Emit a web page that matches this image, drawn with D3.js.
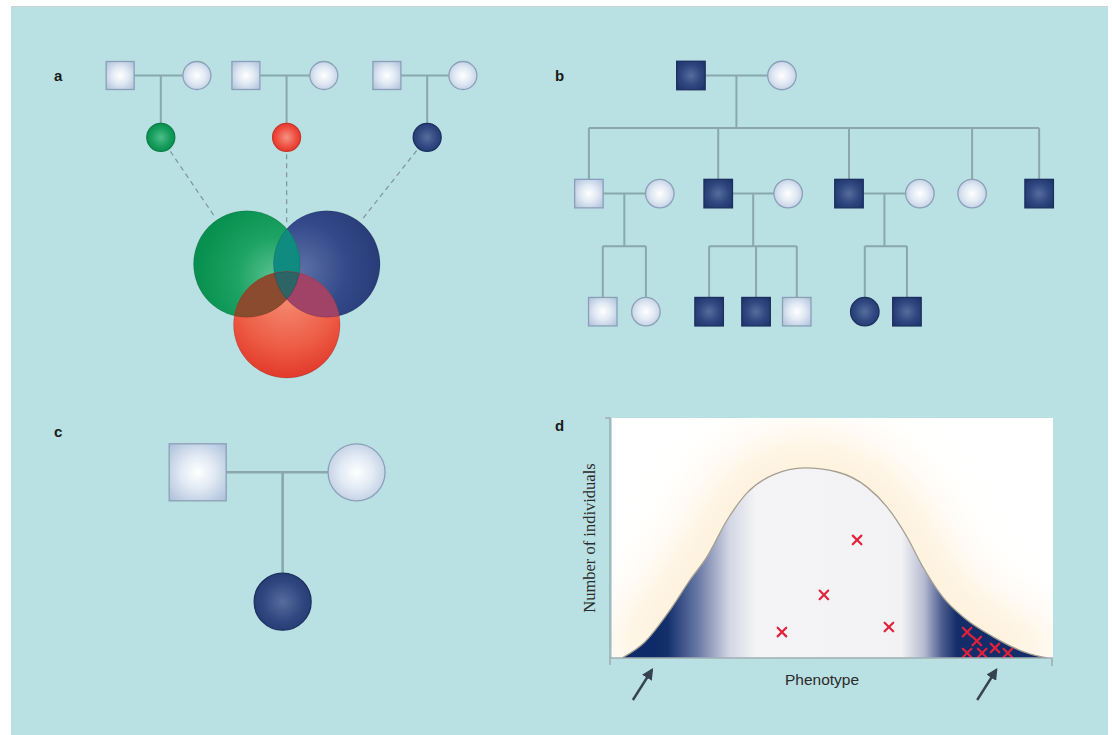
<!DOCTYPE html>
<html>
<head>
<meta charset="utf-8">
<script src="https://cdn.jsdelivr.net/npm/d3@7"></script>
<style>
  html, body { margin: 0; padding: 0; background: #fff; }
  svg { display: block; }
</style>
</head>
<body>
<script>
// ---------------- data ----------------

// Panel a: three couples, each with one daughter carrying a distinct trait
const aPeople = [
  { id: "f1", gen: 1, col: 5.3,  sex: "M", status: "unaffected" },
  { id: "m1", gen: 1, col: 25.5, sex: "F", status: "unaffected" },
  { id: "c1", gen: 2, col: 16.0, sex: "F", status: "green" },
  { id: "f2", gen: 1, col: 38.4, sex: "M", status: "unaffected" },
  { id: "m2", gen: 1, col: 58.9, sex: "F", status: "unaffected" },
  { id: "c2", gen: 2, col: 49.1, sex: "F", status: "red" },
  { id: "f3", gen: 1, col: 75.5, sex: "M", status: "unaffected" },
  { id: "m3", gen: 1, col: 95.5, sex: "F", status: "unaffected" },
  { id: "c3", gen: 2, col: 86.1, sex: "F", status: "navy" }
];
const aUnions = [
  { father: "f1", mother: "m1", children: ["c1"] },
  { father: "f2", mother: "m2", children: ["c2"] },
  { father: "f3", mother: "m3", children: ["c3"] }
];
// Overlapping trait sets (offsets in units of the set radius)
const vennSets = [
  { trait: "navy",  dx: 0.75,  dy: -0.38 },
  { trait: "green", dx: -0.75, dy: -0.38 },
  { trait: "red",   dx: 0,     dy: 0.76 }
];

// Panel b: three-generation pedigree
const bPeople = [
  { id: "I1",   gen: 1, col: 24.2, sex: "M", status: "affected" },
  { id: "I2",   gen: 1, col: 43.2, sex: "F", status: "unaffected" },
  { id: "II1",  gen: 2, col: 2.9,  sex: "M", status: "unaffected" },
  { id: "II1s", gen: 2, col: 17.7, sex: "F", status: "unaffected" },
  { id: "II2",  gen: 2, col: 29.9, sex: "M", status: "affected" },
  { id: "II2s", gen: 2, col: 44.5, sex: "F", status: "unaffected" },
  { id: "II3",  gen: 2, col: 57.2, sex: "M", status: "affected" },
  { id: "II3s", gen: 2, col: 72.0, sex: "F", status: "unaffected" },
  { id: "II4",  gen: 2, col: 82.9, sex: "F", status: "unaffected" },
  { id: "II5",  gen: 2, col: 96.9, sex: "M", status: "affected" },
  { id: "III1", gen: 3, col: 5.8,  sex: "M", status: "unaffected" },
  { id: "III2", gen: 3, col: 14.8, sex: "F", status: "unaffected" },
  { id: "III3", gen: 3, col: 28.0, sex: "M", status: "affected" },
  { id: "III4", gen: 3, col: 37.8, sex: "M", status: "affected" },
  { id: "III5", gen: 3, col: 46.3, sex: "M", status: "unaffected" },
  { id: "III6", gen: 3, col: 60.5, sex: "F", status: "affected" },
  { id: "III7", gen: 3, col: 69.3, sex: "M", status: "affected" }
];
const bUnions = [
  { father: "I1",  mother: "I2",   children: ["II1", "II2", "II3", "II4", "II5"] },
  { father: "II1", mother: "II1s", children: ["III1", "III2"] },
  { father: "II2", mother: "II2s", children: ["III3", "III4", "III5"] },
  { father: "II3", mother: "II3s", children: ["III6", "III7"] }
];

// Panel c: unaffected parents with an affected daughter
const cPeople = [
  { id: "cf", gen: 1, col: 15.7, sex: "M", status: "unaffected" },
  { id: "cm", gen: 1, col: 81.9, sex: "F", status: "unaffected" },
  { id: "cd", gen: 2, col: 51.1, sex: "F", status: "affected" }
];
const cUnions = [{ father: "cf", mother: "cm", children: ["cd"] }];

// Panel d: phenotype distribution
const phenotype = [2.7, 7.9, 13.6, 18.1, 21.9, 26.5, 31.0, 36.9, 44.1, 51.4, 58.1, 62.7, 67.2, 70.8, 75.3, 79.9, 86.7, 94.3, 98.9];
const counts    = [0,   6.7, 20.0, 32.5, 42.0, 57.5, 68.8, 76.3, 79.2, 77.5, 71.3, 62.9, 50.4, 37.9, 25.4, 17.1, 8.8,  2.1,  0];
// individuals carrying a variant
const crossPhen  = [38.9, 48.4, 55.9, 63.1, 80.8, 83.0, 80.8, 84.2, 87.1, 90.0];
const crossCount = [10.8, 26.3, 49.2, 12.9, 10.8, 7.1,  2.1,  2.1,  4.2,  2.1];
// extremes of the distribution
const arrowPhen = [9.7, 87.6];
// shading along the phenotype axis
const shadePos   = [10, 13, 20, 27, 33, 66, 71, 75, 78.5];
const shadeColor = ["#0e2a68", "#13306c", "#6b7aa6", "#d3d6e4", "#f4f4f6", "#f2f2f4", "#b7bcd2", "#4e5f90", "#122d69"];

const panelLabels = ["a", "b", "c", "d"];
const axisLabels = { x: "Phenotype", y: "Number of individuals" };

// ---------------- canvas ----------------
const W = 1112, H = 735;
const svg = d3.select("body").append("svg").attr("width", W).attr("height", H);
const defs = svg.append("defs");

svg.append("rect").attr("width", W).attr("height", H).attr("fill", "#ffffff");
svg.append("rect").attr("x", 11).attr("y", 6).attr("width", 1097).attr("height", H - 6).attr("fill", "#b9e0e2");
svg.append("line").attr("x1", 11).attr("x2", 1108).attr("y1", 6.5).attr("y2", 6.5).attr("stroke", "#cdd3d3");

function radial(id, stops, fx = 0.5, fy = 0.5, r = 0.6) {
  const g = defs.append("radialGradient").attr("id", id)
    .attr("cx", fx).attr("cy", fy).attr("fx", fx).attr("fy", fy).attr("r", r);
  stops.forEach(([o, c]) => g.append("stop").attr("offset", o).attr("stop-color", c));
}
radial("gUnaff", [[0, "#ffffff"], [0.4, "#e2eaf4"], [1, "#a8bdd8"]], 0.5, 0.5, 0.72);
radial("gAff",   [[0, "#586c9c"], [0.5, "#2f4680"], [1, "#1a3166"]], 0.5, 0.5, 0.72);
radial("gGreen", [[0, "#4fbe8a"], [0.6, "#129a58"], [1, "#088a4c"]], 0.5, 0.5, 0.62);
radial("gRed",   [[0, "#f69282"], [0.6, "#ee4a3c"], [1, "#d92c24"]], 0.5, 0.5, 0.62);
radial("vGreen", [[0, "#5cc293"], [0.5, "#1da364"], [1, "#07904f"]], 0.78, 0.62, 0.75);
radial("vNavy",  [[0, "#5c70a6"], [0.55, "#34498a"], [1, "#263a75"]], 0.25, 0.55, 0.8);
radial("vRed",   [[0, "#f58a70"], [0.55, "#ed5c45"], [1, "#de2c22"]], 0.5, 0.25, 0.85);

const fills = {
  unaffected: ["url(#gUnaff)", "#8ba0b8"],
  affected:   ["url(#gAff)", "#1c305f"],
  navy:       ["url(#gAff)", "#1c305f"],
  green:      ["url(#gGreen)", "#0c7d46"],
  red:        ["url(#gRed)", "#c9372a"]
};
const lineColor = "#8aa7ac";

function drawPedigree(g, people, unions, xs, ys, size, lw) {
  const byId = new Map(people.map(p => [p.id, p]));
  const lines = g.append("g").attr("stroke", lineColor).attr("stroke-width", lw).attr("fill", "none");
  unions.forEach(u => {
    const f = byId.get(u.father), m = byId.get(u.mother);
    const fx = xs(f.col), mx = xs(m.col), yL = ys(f.gen);
    lines.append("line").attr("x1", fx + size / 2).attr("x2", mx - size / 2).attr("y1", yL).attr("y2", yL);
    const kids = u.children.map(id => byId.get(id));
    const yC = ys(kids[0].gen);
    if (kids.length === 1) {
      const kx = xs(kids[0].col);
      lines.append("line").attr("x1", kx).attr("x2", kx).attr("y1", yL).attr("y2", yC - size / 2);
    } else {
      const mid = ((fx + size / 2) + (mx - size / 2)) / 2;
      const sibY = yL + 0.445 * (yC - yL);
      const xsK = kids.map(k => xs(k.col));
      lines.append("line").attr("x1", mid).attr("x2", mid).attr("y1", yL).attr("y2", sibY);
      lines.append("line").attr("x1", d3.min(xsK)).attr("x2", d3.max(xsK)).attr("y1", sibY).attr("y2", sibY);
      xsK.forEach(kx => lines.append("line").attr("x1", kx).attr("x2", kx).attr("y1", sibY).attr("y2", yC - size / 2));
    }
  });
  const sym = g.append("g");
  people.forEach(p => {
    const [fill, stroke] = fills[p.status];
    const x = xs(p.col), y = ys(p.gen);
    if (p.sex === "M") {
      sym.append("rect").attr("x", x - size / 2).attr("y", y - size / 2)
        .attr("width", size).attr("height", size)
        .attr("fill", fill).attr("stroke", stroke).attr("stroke-width", 1.3);
    } else {
      sym.append("circle").attr("cx", x).attr("cy", y).attr("r", size / 2)
        .attr("fill", fill).attr("stroke", stroke).attr("stroke-width", 1.3);
    }
  });
  return byId;
}

// ---------------- panel a ----------------
const gA = svg.append("g");
const xA = d3.scaleLinear().domain([0, 100]).range([100, 480]);
const yA = d3.scaleLinear().domain([1, 2]).range([75.5, 137.3]);
const symA = 28;

const vennCenter = [286.8, 284.3];
const vennR = d3.scaleLinear().domain([0, 1]).range([0, 53.3]);
const vennPos = Object.fromEntries(vennSets.map(s =>
  [s.trait, [vennCenter[0] + vennR(s.dx), vennCenter[1] + vennR(s.dy)]]));
const R = vennR(1);

// dashed links from each daughter to her trait set
const dashG = gA.append("g").attr("stroke", "#7e9599").attr("stroke-width", 1.2).attr("stroke-dasharray", "5,4");
aPeople.filter(p => vennPos[p.status]).forEach(p => {
  const x0 = xA(p.col), y0 = yA(p.gen);
  const [x1, y1] = vennPos[p.status];
  const L = Math.hypot(x1 - x0, y1 - y0), ux = (x1 - x0) / L, uy = (y1 - y0) / L;
  let t = symA / 2 + 3;
  while (t < L && !Object.values(vennPos).some(([cx, cy]) => Math.hypot(x0 + ux * t - cx, y0 + uy * t - cy) < R)) t += 0.5;
  const tEnd = t - 5;
  dashG.append("line")
    .attr("x1", x0 + ux * (symA / 2 + 3)).attr("y1", y0 + uy * (symA / 2 + 3))
    .attr("x2", x0 + ux * tEnd).attr("y2", y0 + uy * tEnd);
});

drawPedigree(gA, aPeople, aUnions, xA, yA, symA, 2);

// venn of the three traits
vennSets.forEach(s => {
  defs.append("clipPath").attr("id", "clip-" + s.trait)
    .append("circle").attr("cx", vennPos[s.trait][0]).attr("cy", vennPos[s.trait][1]).attr("r", R);
});
const vG = gA.append("g");
const vFill = { green: "url(#vGreen)", navy: "url(#vNavy)", red: "url(#vRed)" };
const circ = (g, t, fill) => g.append("circle").attr("cx", vennPos[t][0]).attr("cy", vennPos[t][1]).attr("r", R).attr("fill", fill);
circ(vG, "navy", vFill.navy);
circ(vG, "green", vFill.green);
circ(vG.append("g").attr("clip-path", "url(#clip-navy)"), "green", "#0f8c7f");
circ(vG, "red", vFill.red);
circ(vG.append("g").attr("clip-path", "url(#clip-green)"), "red", "#8b4b2e");
circ(vG.append("g").attr("clip-path", "url(#clip-navy)"), "red", "#a04366");
circ(vG.append("g").attr("clip-path", "url(#clip-navy)").append("g").attr("clip-path", "url(#clip-green)"), "red", "#2d6466");
vennSets.forEach(s => circ(vG, s.trait, "none").attr("stroke", "#000").attr("stroke-opacity", 0.12).attr("stroke-width", 1));

// ---------------- panel b ----------------
const gB = svg.append("g");
const xB = d3.scaleLinear().domain([0, 100]).range([575, 1054]);
const yB = d3.scaleLinear().domain([1, 3]).range([75.5, 311.7]);
drawPedigree(gB, bPeople, bUnions, xB, yB, 28.5, 2);

// ---------------- panel c ----------------
const gC = svg.append("g");
const xC = d3.scaleLinear().domain([0, 100]).range([160, 400]);
const yC = d3.scaleLinear().domain([1, 2]).range([472.3, 601.7]);
drawPedigree(gC, cPeople, cUnions, xC, yC, 57, 2.6);

// ---------------- panel d ----------------
const gD = svg.append("g");
const x = d3.scaleLinear().domain([0, 100]).range([610, 1052]);
const y = d3.scaleLinear().domain([0, 100]).range([658, 418]);

defs.append("clipPath").attr("id", "plotClip").append("rect")
  .attr("x", 612).attr("y", 418).attr("width", 441).attr("height", 240);
defs.append("filter").attr("id", "glow").attr("x", "-30%").attr("y", "-60%").attr("width", "160%").attr("height", "220%")
  .append("feGaussianBlur").attr("stdDeviation", 26);

const shade = defs.append("linearGradient").attr("id", "shade")
  .attr("gradientUnits", "userSpaceOnUse")
  .attr("x1", x(0)).attr("x2", x(100)).attr("y1", 0).attr("y2", 0);
shadePos.forEach((p, i) => shade.append("stop").attr("offset", p / 100).attr("stop-color", shadeColor[i]));

gD.append("rect").attr("x", 612).attr("y", 418).attr("width", 441).attr("height", 240).attr("fill", "#ffffff");

const pts = phenotype.map((p, i) => [p, counts[i]]);
const topLine = d3.line().x(d => x(d[0])).y(d => y(d[1])).curve(d3.curveMonotoneX);
const area = d3.area().x(d => x(d[0])).y0(y(0)).y1(d => y(d[1])).curve(d3.curveMonotoneX);

// warm halo around the distribution
gD.append("g").attr("clip-path", "url(#plotClip)")
  .append("path").attr("d", topLine(pts)).attr("fill", "none")
  .attr("stroke", "#fde2b2").attr("stroke-opacity", 0.55).attr("stroke-width", 60)
  .attr("filter", "url(#glow)");

gD.append("path").attr("d", area(pts)).attr("fill", "url(#shade)");
gD.append("path").attr("d", topLine(pts)).attr("fill", "none").attr("stroke", "#a59f93").attr("stroke-width", 1.3);

gD.append("g").selectAll("path").data(crossPhen.map((p, i) => [p, crossCount[i]])).join("path")
  .attr("transform", d => `translate(${x(d[0])},${y(d[1])})`)
  .attr("d", "M-4.3,-4.3L4.3,4.3M-4.3,4.3L4.3,-4.3")
  .attr("stroke", "#e3213c").attr("stroke-width", 2.2).attr("stroke-linecap", "round");

const axisColor = "#a0aeb2";
const xAxis = gD.append("g").attr("transform", `translate(0,${y(0)})`)
  .call(d3.axisBottom(x).ticks(0).tickSizeOuter(8));
const yAxis = gD.append("g").attr("transform", `translate(${x(0)},0)`)
  .call(d3.axisLeft(y).ticks(0).tickSizeOuter(5));
[xAxis, yAxis].forEach(a => {
  a.selectAll(".domain").attr("stroke", axisColor).attr("stroke-width", 1.6);
  a.selectAll(".tick").remove();
});
xAxis.select(".domain").attr("d", `M${x(0)},0H${x(100)}V8`);
yAxis.select(".domain").attr("d", `M-5,${y(100)}H0V${y(0) + 7}`);

gD.append("text").attr("x", 822).attr("y", 685).attr("text-anchor", "middle")
  .attr("font-family", "Liberation Sans, Arial, sans-serif").attr("font-size", 15.5).attr("fill", "#2b2b2b")
  .text(axisLabels.x);
gD.append("text").attr("transform", "translate(595,538) rotate(-90)").attr("text-anchor", "middle")
  .attr("font-family", "Liberation Serif, Times New Roman, serif").attr("font-size", 16.5).attr("fill", "#2b2b2b")
  .text(axisLabels.y);

// arrows pointing at the two tails
defs.append("marker").attr("id", "arrowHead").attr("viewBox", "0 0 10 10").attr("refX", 8).attr("refY", 5)
  .attr("markerWidth", 4.8).attr("markerHeight", 4.8).attr("orient", "auto").attr("markerUnits", "strokeWidth")
  .append("path").attr("d", "M0,0L10,5L0,10Z").attr("fill", "#34434f");
arrowPhen.forEach(p => {
  const tipX = x(p), tipY = y(0) + 10;
  gD.append("line").attr("x1", tipX - 20).attr("y1", tipY + 32).attr("x2", tipX - 1).attr("y2", tipY + 2)
    .attr("stroke", "#34434f").attr("stroke-width", 2.4).attr("marker-end", "url(#arrowHead)");
});

// ---------------- panel letters ----------------
const labelPos = [[54, 81], [555, 81], [54, 437], [555, 431]];
svg.append("g").selectAll("text").data(panelLabels).join("text")
  .attr("x", (d, i) => labelPos[i][0]).attr("y", (d, i) => labelPos[i][1])
  .attr("font-family", "Liberation Sans, Arial, sans-serif").attr("font-weight", "bold")
  .attr("font-size", 15).attr("fill", "#1a1a1a").text(d => d);
</script>
</body>
</html>
